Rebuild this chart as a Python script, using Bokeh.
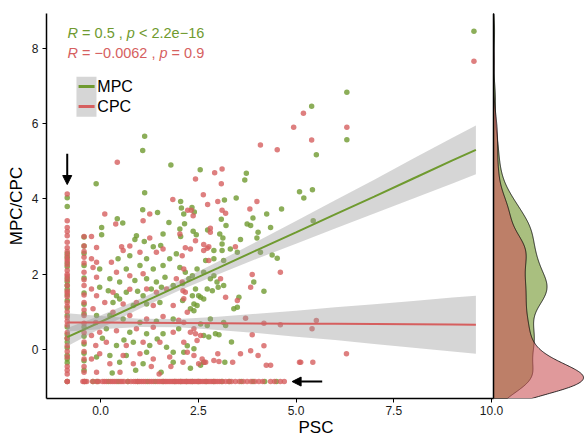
import numpy as np
from bokeh.plotting import figure
from bokeh.models import Range1d, FixedTicker, PrintfTickFormatter, Arrow, NormalHead
from bokeh.core.properties import value
from bokeh.embed import file_html
from bokeh.resources import INLINE

FONT = "Liberation Sans"
GREEN = "#6F9A2F"
RED = "#D65F5F"
FILL_G = "#70942A"
FILL_R = "#CB5558"
BAND = "#999999"

FLOOR = -0.85      # value given to samples at the detection floor
COL_B = -0.42      # second discrete PSC level
DENS_BW = 0.38     # kernel bandwidth of the marginal densities

# ---------------- MPC ----------------
mpc_col_a_y = [4.03, 3.80, 2.55, 2.45, 2.30, 2.20, 1.90, 1.80, 1.70, 1.60, 1.45, 1.30,
               1.10, 0.90, 0.60, 0.40, 0.30, 0.20, 0.05, -0.15, -0.25, -0.35, -0.85]
mpc_col_b_y = [2.99, 2.75, 2.55, 2.23, 1.90, 1.50, 1.20, 0.95, 0.60, 0.35, 0.15,
               -0.10, -0.30, -0.55]
mpc_floor_x = [-0.40, -0.19, -0.08, 0.20, 0.45, 0.70, 0.95, 1.20, 1.40, 1.60, 1.90,
               2.05, 2.20, 2.35, 2.50, 2.70, 2.90, 3.10, 3.30, 3.60, 3.90, 4.20, 4.50]
mpc_pts = [
    (9.55, 8.45), (6.30, 6.83), (6.30, 5.57), (5.40, 6.46), (5.52, 5.17), (5.42, 4.24),
    (5.20, 4.02), (5.09, 4.19), (1.13, 5.66), (1.08, 5.28), (1.80, 4.90), (-0.11, 4.40),
    (2.55, 4.77), (3.73, 4.68), (3.69, 4.50), (1.13, 4.16), (3.47, 4.02), (3.17, 3.97),
    (2.05, 3.93), (2.07, 3.76),
    (1.08, 3.71), (1.46, 3.64), (0.43, 3.47), (0.57, 3.36), (0.03, 3.24), (0.03, 3.05),
    (1.75, 3.37), (1.60, 3.07), (0.92, 3.02), (0.88, 2.92), (1.12, 2.87), (1.35, 2.73),
    (1.54, 2.76), (2.13, 3.60), (2.03, 3.20), (2.34, 3.77), (2.40, 3.65), (2.15, 3.34),
    (2.37, 3.14), (2.45, 3.05), (2.74, 3.17), (3.09, 3.46), (3.21, 3.29), (3.05, 3.07),
    (3.13, 2.96), (3.11, 2.80), (3.58, 2.92), (3.75, 3.33), (3.84, 3.29), (3.90, 3.49),
    (4.03, 3.11), (4.00, 2.96), (4.25, 3.60), (4.35, 3.24), (4.63, 3.73), (5.44, 3.42),
    (2.05, 3.00),
    (2.90, 2.63), (3.11, 2.63), (3.32, 2.67), (3.50, 2.58), (4.09, 2.58), (4.39, 2.51),
    (4.52, 2.42), (3.15, 2.36), (2.90, 2.41), (2.69, 2.36), (2.47, 2.14), (2.64, 2.05),
    (-0.02, 2.14), (0.45, 2.41), (0.75, 2.49), (0.66, 2.14), (1.01, 2.23), (1.18, 2.41),
    (1.35, 2.14), (1.60, 2.23), (1.77, 2.41), (1.94, 2.54), (2.03, 2.18), (2.17, 2.05),
    (2.35, 1.96),
    (2.81, 1.88), (2.90, 1.96), (2.98, 1.79), (2.73, 1.61), (2.86, 1.56), (3.01, 1.65),
    (3.15, 1.70), (2.51, 1.43), (2.56, 1.39), (2.64, 1.34), (2.39, 1.21), (2.47, 1.17),
    (2.30, 1.08), (2.39, 1.03), (3.54, 1.39), (3.41, 1.08), (3.50, 1.12), (3.92, 1.79),
    (4.18, 1.55), (2.26, 1.88), (2.43, 1.61), (2.35, 1.43),
    (0.24, 1.88), (0.49, 1.79), (0.88, 1.83), (1.18, 1.88), (1.43, 1.79), (1.65, 1.92),
    (-0.02, 1.65), (0.20, 1.56), (0.41, 1.43), (0.66, 1.52), (0.95, 1.55), (1.09, 1.43),
    (1.30, 1.61), (1.56, 1.65), (1.86, 1.70), (2.10, 1.75), (0.32, 1.25), (0.49, 1.34),
    (0.84, 1.17), (1.18, 1.21), (1.52, 1.25), (2.10, 1.30),
    (-0.10, 0.90), (0.24, 0.90), (0.58, 0.81), (1.01, 0.72), (1.43, 0.75), (1.86, 0.81),
    (0.15, 0.55), (0.75, 0.46), (1.18, 0.42), (1.60, 0.42), (2.00, 0.55), (0.41, 0.11),
    (0.84, 0.19), (1.26, 0.11), (1.69, 0.06), (2.81, 0.81), (3.15, 0.72), (3.20, 0.64),
    (2.56, 0.68), (2.73, 0.64), (2.94, 0.42), (3.03, 0.39), (2.64, 0.37), (2.77, 0.33),
    (2.22, 0.10), (2.39, 0.02), (0.05, 0.30), (0.60, 0.25), (1.45, 0.28), (3.35, 0.20),
    (2.13, -0.07), (0.24, -0.16), (0.66, -0.16), (1.18, -0.07), (1.86, -0.07), (-0.10, -0.20),
    (0.49, -0.34), (1.09, -0.38), (1.86, -0.34), (2.64, -0.34), (3.18, -0.34), (2.56, -0.42),
    (0.90, -0.55), (1.55, -0.60), (2.30, -0.50), (0.30, -0.62),
]

# ---------------- CPC ----------------
cpc_col_a_y = [4.13, 3.42, 3.24, 3.13, 3.02, 2.85, 2.70, 2.60, 2.50, 2.40, 2.35, 2.25,
               2.10, 2.00, 1.95, 1.85, 1.70, 1.55, 1.50, 1.40, 1.25, 1.15, 1.00, 0.85,
               0.75, 0.65, 0.45, 0.30, 0.10, -0.05, -0.20, -0.45, -0.55, -0.65, -0.85, -0.85]
cpc_col_b_y = [3.00, 2.75, 2.60, 2.45, 2.30, 2.05, 1.85, 1.70, 1.45, 1.25, 1.05, 0.90,
               0.70, 0.45, 0.20, -0.05, -0.25, -0.45, -0.60, -0.85]
cpc_floor_x = [-0.45, -0.35, -0.20, -0.05, 0.05, 0.15, 0.30, 0.40, 0.50, 0.60, 0.70, 0.85,
               0.95, 1.05, 1.15, 1.25, 1.35, 1.45, 1.55, 1.65, 1.72, 1.80, 1.88, 1.95,
               2.02, 2.10, 2.18, 2.25, 2.32, 2.40, 2.48, 2.55, 2.65, 2.75, 2.85, 2.95,
               3.05, 3.20, 3.35, 3.55, 3.75, 3.85, 3.95, 4.05, 4.35, 4.45, 4.70,
               -0.40, -0.10, 0.10, 0.25, 0.35, 0.55, 0.78, 0.90, 1.00, 1.10, 1.30, 1.50,
               1.60, 1.68, 1.76, 1.84, 1.92, 1.99, 2.06, 2.14, 2.21, 2.29, 2.36, 2.44,
               2.52, 2.60, 2.70, 2.80, 2.90, 3.00, 3.12, 3.28, 3.45, 3.65, 4.15, 4.60]
cpc_pts = [
    (9.55, 7.65), (6.30, 5.90), (5.19, 6.27), (5.40, 5.56), (4.94, 5.90), (4.09, 5.43),
    (4.52, 5.30), (0.43, 4.97), (2.92, 4.69), (3.11, 4.79), (2.43, 4.53), (3.09, 4.40),
    (2.63, 4.11), (2.74, 3.85), (3.00, 3.93), (4.00, 3.93), (3.82, 3.73), (3.11, 3.70),
    (3.20, 3.62), (1.85, 3.98), (0.11, 3.60), (1.09, 3.42), (0.39, 3.33), (1.26, 3.60),
    (-0.23, 3.00), (1.26, 2.96), (-0.10, 2.71), (0.54, 2.73), (0.75, 2.75), (2.03, 3.07),
    (2.23, 3.70), (2.32, 3.70), (2.37, 3.55), (2.81, 3.22), (2.81, 3.11), (2.43, 2.89),
    (2.64, 2.79), (2.17, 2.70), (2.77, 2.73), (3.45, 2.73),
    (-0.23, 2.41), (-0.10, 2.32), (-0.19, 2.18), (0.28, 2.32), (0.41, 2.05), (0.75, 1.96),
    (1.09, 2.01), (1.43, 2.58), (1.60, 2.67), (1.01, 2.58), (0.58, 2.63), (2.09, 2.49),
    (2.13, 2.14), (2.30, 2.67), (2.64, 2.63), (2.73, 2.69), (2.77, 2.36), (4.60, 2.05),
    (3.88, 1.99), (3.07, 1.88),
    (-0.10, 1.92), (-0.23, 1.61), (-0.10, 1.43), (-0.19, 1.08), (1.94, 1.88), (2.11, 1.56),
    (1.69, 1.61), (1.43, 1.52), (1.18, 1.61), (0.32, 1.52), (0.11, 1.25), (0.58, 1.21),
    (0.92, 1.25), (1.35, 1.17), (1.86, 1.17), (2.09, 1.79), (2.17, 1.52), (2.13, 1.35),
    (3.20, 1.39), (3.50, 1.30), (3.84, 1.65), (0.75, 1.60),
    (-0.12, 0.72), (-0.23, 0.37), (-0.12, 0.11), (0.32, 0.99), (0.75, 0.90), (1.18, 0.81),
    (1.60, 0.88), (2.00, 0.78), (-0.02, 0.46), (0.41, 0.50), (0.92, 0.55), (1.35, 0.59),
    (1.86, 0.46), (0.15, 0.19), (0.66, 0.11), (1.09, 0.19), (1.52, 0.19), (2.22, 0.99),
    (2.13, 0.72), (2.30, 0.46), (2.13, 0.19), (2.39, 0.55), (2.43, 0.42), (2.56, 0.37),
    (2.47, 0.24), (3.71, 0.83), (4.18, 0.70), (4.60, 0.66), (5.52, 0.77), (5.41, 0.55),
    (3.88, 0.39), (4.18, 0.10),
    (-0.23, -0.25), (-0.10, -0.60), (-0.02, -0.11), (0.58, -0.16), (1.01, -0.11),
    (1.35, -0.25), (1.77, -0.20), (2.11, -0.34), (0.24, -0.38), (0.84, -0.38), (1.30, -0.45),
    (1.80, -0.45), (2.22, -0.07), (2.39, -0.16), (3.58, -0.11), (3.84, -0.03), (4.03, -0.16),
    (3.00, -0.11), (2.90, -0.29), (2.65, -0.34), (3.03, -0.32), (3.38, -0.34), (4.24, -0.42),
    (4.35, -0.42), (5.09, -0.34), (5.43, -0.34), (6.29, -0.11), (2.60, -0.25), (2.69, -0.34),
    (2.51, -0.38), (0.50, -0.60), (1.50, -0.65), (5.12, -0.34),
]

# ---------------- linear fits with 95% confidence bands ----------------
fit_x = [-0.85, 0, 1, 2, 3, 4, 5, 6, 7, 8, 9, 9.6]
mpc_fit = [0.33, 0.73, 1.21, 1.69, 2.16, 2.64, 3.11, 3.59, 4.06, 4.54, 5.02, 5.30]
mpc_lo = [0.09, 0.56, 1.08, 1.56, 1.99, 2.41, 2.81, 3.21, 3.61, 4.01, 4.41, 4.65]
mpc_hi = [0.57, 0.90, 1.34, 1.81, 2.33, 2.87, 3.41, 3.96, 4.51, 5.07, 5.62, 5.95]
cpc_fit = [0.72, 0.715, 0.709, 0.704, 0.698, 0.692, 0.687, 0.681, 0.675, 0.670, 0.664, 0.66]
cpc_lo = [0.48, 0.54, 0.60, 0.59, 0.52, 0.44, 0.34, 0.25, 0.15, 0.05, -0.05, -0.11]
cpc_hi = [0.96, 0.89, 0.82, 0.81, 0.87, 0.95, 1.03, 1.12, 1.20, 1.29, 1.38, 1.43]

mpc_label = [("R", "italic"), (" = 0.5 , ", "normal"), ("p", "italic"), (" < 2.2e\u221216", "normal")]
cpc_label = [("R", "italic"), (" = \u22120.0062 , ", "normal"), ("p", "italic"), (" = 0.9", "normal")]

x_ticks = [0, 2.5, 5, 7.5, 10]
y_ticks = [0, 2, 4, 6, 8]

# ---------------- assemble series ----------------
mpc_x = ([FLOOR] * len(mpc_col_a_y) + [COL_B] * len(mpc_col_b_y) + mpc_floor_x
         + [a for a, _ in mpc_pts])
mpc_y = mpc_col_a_y + mpc_col_b_y + [FLOOR] * len(mpc_floor_x) + [b for _, b in mpc_pts]
cpc_x = ([FLOOR] * len(cpc_col_a_y) + [COL_B] * len(cpc_col_b_y) + cpc_floor_x
         + [a for a, _ in cpc_pts])
cpc_y = cpc_col_a_y + cpc_col_b_y + [FLOOR] * len(cpc_floor_x) + [b for _, b in cpc_pts]

X0, X1 = -1.38, 10.05
Y0, Y1 = -1.30, 8.92
MAIN_W, PANEL_W = 447, 92
x_end = X1 + (X1 - X0) * PANEL_W / MAIN_W

p = figure(width=585, height=441, x_range=Range1d(X0, x_end), y_range=Range1d(Y0, Y1),
           output_backend="svg", toolbar_location=None,
           min_border_left=46, min_border_right=0, min_border_top=13, min_border_bottom=43)
p.grid.visible = False
p.outline_line_color = None
p.background_fill_color = "white"

# scatter
p.scatter(mpc_x, mpc_y, size=5.5, fill_color=GREEN, line_color=None, fill_alpha=0.8)
p.scatter(cpc_x, cpc_y, size=5.5, fill_color=RED, line_color=None, fill_alpha=0.8)

# confidence bands and fitted lines
p.varea(x=fit_x, y1=mpc_lo, y2=mpc_hi, fill_color=BAND, fill_alpha=0.4)
p.line(fit_x, mpc_fit, line_color=GREEN, line_width=2)
p.varea(x=fit_x, y1=cpc_lo, y2=cpc_hi, fill_color=BAND, fill_alpha=0.4)
p.line(fit_x, cpc_fit, line_color=RED, line_width=2)


# marginal densities of the y values
def kde(v, grid, bw):
    v = np.asarray(v, dtype=float)
    z = (grid[:, None] - v[None, :]) / bw
    return np.exp(-0.5 * z * z).sum(axis=1) / (len(v) * bw * np.sqrt(2 * np.pi))


grid = np.linspace(Y0, Y1, 600)
dens_m = kde(mpc_y, grid, DENS_BW)
dens_c = kde(cpc_y, grid, DENS_BW)
d_end = max(dens_m.max(), dens_c.max()) * PANEL_W / 90.0
d_start = -d_end * MAIN_W / PANEL_W
p.extra_x_ranges = {"dens": Range1d(d_start, d_end)}

for dens, col in ((dens_m, FILL_G), (dens_c, FILL_R)):
    p.patch(np.r_[0, dens, 0], np.r_[grid[0], grid, grid[-1]], x_range_name="dens",
            fill_color=col, fill_alpha=0.6, line_color="black", line_width=0.8)
p.segment(x0=[0], y0=[Y0], x1=[0], y1=[Y1], x_range_name="dens",
          line_color="black", line_width=1.5)

# correlation labels
ADV = {" ": 278, "=": 584, "<": 584, ".": 278, ",": 278, "e": 556, "\u2212": 584,
       "R": 722, "p": 556}


def text_w(s, size):
    return sum(ADV.get(c, 556) for c in s) * size / 1000.0


def rich_text(x, y, parts, color, size):
    off = 0.0
    for s, style in parts:
        lead = len(s) - len(s.lstrip(" "))
        p.text(x=[x], y=[y], text=[s.strip(" ")], x_offset=off + text_w(" " * lead, size),
               text_font=value(FONT), text_font_size=f"{size}px", text_font_style=style,
               text_color=color, text_baseline="middle", text_align="left")
        off += text_w(s, size)


rich_text(-0.84, 8.41, mpc_label, GREEN, 14.5)
rich_text(-0.84, 7.88, cpc_label, RED, 14.5)

# legend
p.quad(left=[-0.614], right=[-0.102], bottom=[6.18], top=[7.24],
       fill_color=BAND, fill_alpha=0.4, line_color=None)
p.segment(x0=[-0.56, -0.56], y0=[6.98, 6.45], x1=[-0.15, -0.15], y1=[6.98, 6.45],
          line_color=[GREEN, RED], line_width=3)
p.text(x=[-0.08, -0.08], y=[6.98, 6.45], text=["MPC", "CPC"], text_font=value(FONT),
       text_font_size="16px", text_color="black", text_baseline="middle", text_align="left")

# arrows marking the floor values
for xs, ys, xe, ye in ((FLOOR, 5.20, FLOOR, 4.38), (5.67, FLOOR, 4.90, FLOOR)):
    p.add_layout(Arrow(end=NormalHead(size=9, fill_color="black", line_color="black"),
                       x_start=xs, y_start=ys, x_end=xe, y_end=ye,
                       line_color="black", line_width=2))

# axes
p.xaxis.ticker = FixedTicker(ticks=x_ticks)
p.xaxis.formatter = PrintfTickFormatter(format="%.1f")
p.xaxis.bounds = (X0, X1)
p.yaxis.ticker = FixedTicker(ticks=y_ticks)
p.yaxis.formatter = PrintfTickFormatter(format="%d")
p.xaxis.axis_label = "PSC"
p.yaxis.axis_label = "MPC/CPC"
for ax in (p.xaxis, p.yaxis):
    ax.axis_line_color = "black"
    ax.axis_line_width = 1.5
    ax.major_tick_line_color = "black"
    ax.major_tick_out = 4
    ax.major_tick_in = 0
    ax.minor_tick_line_color = None
    ax.major_label_text_font = FONT
    ax.major_label_text_font_size = "12px"
    ax.major_label_text_color = "#1a1a1a"
    ax.axis_label_text_font = FONT
    ax.axis_label_text_font_size = "17px"
    ax.axis_label_text_font_style = "normal"
    ax.axis_label_text_color = "black"
p.xaxis.major_label_standoff = 3
p.xaxis.axis_label_standoff = 0
p.yaxis.major_label_standoff = 4
p.yaxis.axis_label_standoff = 3

open("out.html", "w").write(file_html(p, INLINE))
